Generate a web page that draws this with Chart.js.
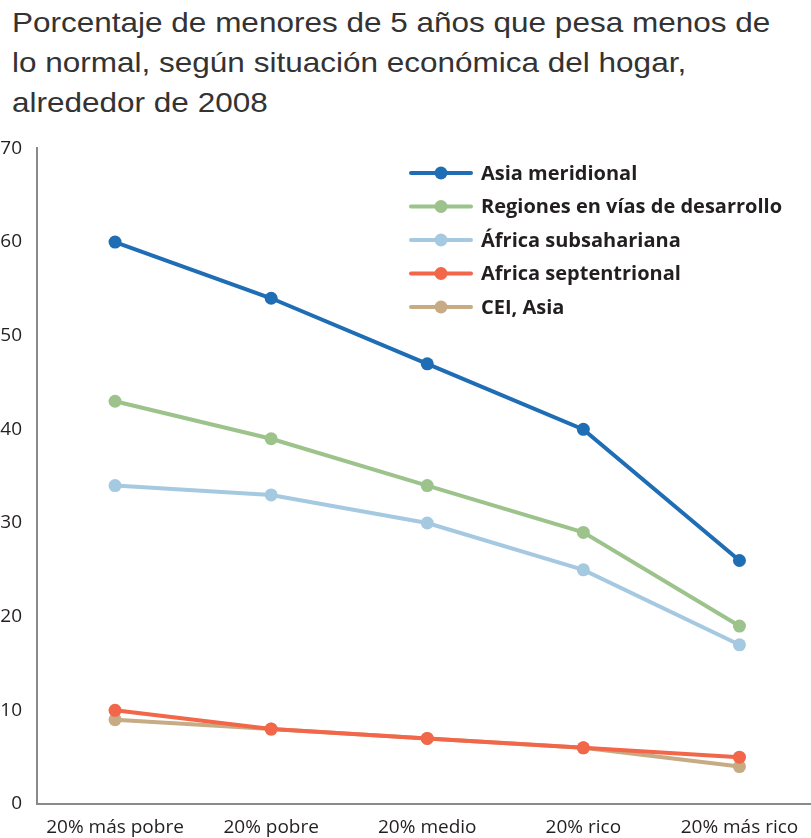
<!DOCTYPE html>
<html>
<head>
<meta charset="utf-8">
<script src="https://cdn.jsdelivr.net/npm/chart.js@4"></script>
<style>
  html, body { margin: 0; padding: 0; background: #fff; overflow: hidden; width: 811px; height: 838px; }
  #title { position: absolute; left: 12px; top: 3px; font-family: "Liberation Sans", Arial, sans-serif; font-size: 28px; line-height: 40px; color: #333; white-space: nowrap; transform: scaleX(1.125); transform-origin: 0 0; }
  #c { position: absolute; left: 0; top: 130px; }
</style>
</head>
<body>
<div id="title">Porcentaje de menores de 5 años que pesa menos de<br>lo normal, según situación económica del hogar,<br>alrededor de 2008</div>
<canvas id="c" width="824" height="708"></canvas>
<script>
const categories = ["20% más pobre", "20% pobre", "20% medio", "20% rico", "20% más rico"];
const seriesNames = ["Asia meridional", "Regiones en vías de desarrollo", "África subsahariana", "Africa septentrional", "CEI, Asia"];
const asiaMeridional = [60, 54, 47, 40, 26];
const regionesDesarrollo = [43, 39, 34, 29, 19];
const africaSubsahariana = [34, 33, 30, 25, 17];
const africaSeptentrional = [10, 8, 7, 6, 5];
const ceiAsia = [9, 8, 7, 6, 4];
const yTicks = [0, 10, 20, 30, 40, 50, 60, 70];
const colors = ["#1f6db5", "#9cc38b", "#a5c9e1", "#f26649", "#c6ab84"];

const seriesData = [asiaMeridional, regionesDesarrollo, africaSubsahariana, africaSeptentrional, ceiAsia];

const datasets = seriesData.map((d, i) => ({
  label: seriesNames[i],
  data: d,
  borderColor: colors[i],
  backgroundColor: colors[i],
  pointBackgroundColor: colors[i],
  pointBorderWidth: 0,
  pointRadius: 6.5,
  borderWidth: 4,
  tension: 0,
  order: i === 4 ? 5 : i
}));

const legendPlugin = {
  id: 'customLegend',
  afterDatasetsDraw(chart) {
    const ctx = chart.ctx;
    const top = 173 - 130;
    const step = 33.5;
    ctx.save();
    chart.data.datasets.forEach((ds, i) => {
      const y = top + i * step;
      ctx.strokeStyle = ds.borderColor;
      ctx.lineWidth = 4;
      ctx.lineCap = 'round';
      ctx.beginPath();
      ctx.moveTo(411, y);
      ctx.lineTo(471, y);
      ctx.stroke();
      ctx.fillStyle = ds.borderColor;
      ctx.beginPath();
      ctx.arc(441, y, 6.5, 0, Math.PI * 2);
      ctx.fill();
      ctx.fillStyle = '#231f20';
      ctx.font = 'bold 20px "Open Sans", sans-serif';
      ctx.textBaseline = 'middle';
      ctx.textAlign = 'left';
      ctx.fillText(ds.label, 481, y + 1);
    });
    ctx.restore();
  }
};

new Chart(document.getElementById('c'), {
  type: 'line',
  data: { labels: categories, datasets: datasets },
  options: {
    responsive: false,
    animation: false,
    layout: { padding: { top: 16, bottom: 0, left: 0, right: 0 } },
    plugins: { legend: { display: false }, tooltip: { enabled: false }, title: { display: false } },
    scales: {
      x: {
        offset: true,
        afterFit(scale) { scale.height = 34; },
        grid: { display: false },
        border: { display: true, color: '#8a8a8a', width: 2 },
        ticks: { color: '#231f20', font: { family: '"Open Sans", sans-serif', size: 19 }, padding: 4, maxRotation: 0, autoSkip: false }
      },
      y: {
        min: 0, max: 70,
        afterBuildTicks(scale) { scale.ticks = yTicks.map(v => ({ value: v })); },
        afterFit(scale) { scale.width = 37; },
        grid: { display: false },
        border: { display: true, color: '#8a8a8a', width: 2 },
        ticks: { color: '#231f20', font: { family: '"Open Sans", sans-serif', size: 19 }, padding: 7 }
      }
    }
  },
  plugins: [legendPlugin]
});
</script>
</body>
</html>
